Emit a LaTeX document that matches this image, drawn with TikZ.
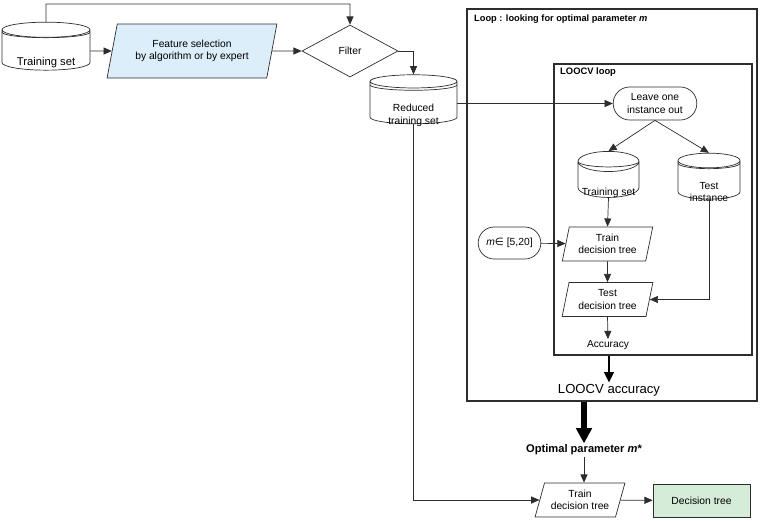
\documentclass[tikz,border=0pt]{standalone}
\usepackage{fontspec}
\setmainfont{Liberation Sans}
\newfontfamily\symfont{DejaVu Sans}
\usepackage{tikz}
\usetikzlibrary{shapes.geometric,shapes.misc}
\usetikzlibrary{arrows.meta,calc}
\usetikzlibrary{positioning}

\definecolor{featblue}{RGB}{220,238,250}
\definecolor{treegreen}{RGB}{212,236,216}
\definecolor{linegray}{RGB}{45,45,45}

% text sits in the lower part of a database symbol
\newcommand{\dbtext}[1]{\raisebox{-12.5pt}[0pt][0pt]{\begin{tabular}{@{}c@{}}#1\end{tabular}}}

\tikzset{
  base/.style={draw=linegray, line width=0.6pt, align=center, inner sep=1pt,
    font=\fontsize{8.8}{10.5}\selectfont},
  dbase/.style={base, cylinder, shape border rotate=90, aspect=#1,
    path picture={\draw[linegray, line width=0.6pt]
      let \p1=(path picture bounding box.north west),
          \p2=(path picture bounding box.north east) in
      ($(\p1)+(0,-0.3cm)$) arc[start angle=180, end angle=360,
        x radius={(\x2-\x1)/2}, y radius=0.165cm];}},
  io/.style={base, trapezium, trapezium left angle=#1,
    trapezium right angle={180-#1}, trapezium stretches=true},
  term/.style={base, rounded rectangle},
  frame/.style={draw=linegray, rectangle},
  arr/.style={draw=linegray, line width=0.6pt, -{Triangle[length=7pt,width=6pt]}},
  bigarr/.style={draw=black, line width=2.2pt, -{Triangle[length=9pt,width=8pt]}},
  hugearr/.style={draw=black, line width=4.5pt, -{Triangle[length=13pt,width=13pt]}}
}

\begin{document}
\begin{tikzpicture}[x=0.03cm, y=-0.03cm]
  \useasboundingbox (0,0) rectangle (760,520);

  % loop frames
  \node (outer) [frame, line width=1.3pt, minimum width=8.7cm, minimum height=11.76cm] at (612,205) {};
  \node (inner) [frame, line width=0.9pt, minimum width=5.94cm, minimum height=8.73cm] at (653,209.5) {};
  \node (outertitle) [anchor=west, inner sep=0pt, font=\bfseries\fontsize{7.9}{9}\selectfont]
    at (474,19) {Loop : looking for optimal parameter \textit{m}};
  \node (innertitle) [anchor=west, inner sep=0pt, font=\bfseries\fontsize{8}{9}\selectfont]
    at (560,72) {LOOCV loop};

  % top row
  \node (ts) [dbase=0.25, minimum width=2.64cm, minimum height=1.44cm, font=\fontsize{9.6}{11}\selectfont]
    at (46,51) {\dbtext{Training set}};
  \node (feat) [io=72, fill=featblue, minimum width=5.1cm, minimum height=1.62cm] at (192,51)
    {Feature selection\\by algorithm or by expert};
  \node (filter) [base, diamond, inner sep=0pt, minimum width=2.88cm, minimum height=1.56cm] at (350,51) {Filter};
  \node (red) [dbase=0.25, minimum width=2.61cm, minimum height=1.47cm] at (413.5,103.5) {\dbtext{Reduced\\training set}};
  \coordinate (bend) at (46,4);

  % LOOCV loop
  \node (leave) [term, minimum width=2.58cm, minimum height=0.99cm] at (655,103.5) {Leave one\\instance out};
  \node (its) [dbase=0.36, minimum width=1.83cm, minimum height=1.38cm] at (608.5,181) {\dbtext{Training set}};
  \node (tst) [dbase=0.36, minimum width=1.86cm, minimum height=1.38cm] at (709,181) {\dbtext{Test\\instance}};
  \node (mrange) [term, minimum width=1.95cm, minimum height=0.96cm] at (509.5,243) {\textit{m}{\symfont ∈} [5,20]};
  \node (tr1) [io=76, minimum width=2.73cm, minimum height=1.02cm] at (607.5,244) {Train\\decision tree};
  \node (te1) [io=76, minimum width=2.73cm, minimum height=1.02cm] at (607.5,299.5) {Test\\decision tree};
  \node (acc) [inner sep=1pt, font=\fontsize{8.7}{10}\selectfont] at (608,345) {Accuracy};
  \node (loocv) [inner sep=1pt, font=\fontsize{11.2}{13}\selectfont] at (609,390) {LOOCV accuracy};

  % final model
  \node (opt) [inner sep=1pt, font=\bfseries\fontsize{9.5}{11}\selectfont] at (584,450) {Optimal parameter \textit{m}*};
  \node (tr2) [io=70, minimum width=2.7cm, minimum height=1.02cm] at (580,500) {Train\\decision tree};
  \node (dtree) [base, rectangle, fill=treegreen, minimum width=2.91cm, minimum height=0.99cm] at (701.5,500.5) {Decision tree};

  \draw[arr] (ts.north) -- (bend) -| (filter.north);
  \draw[arr] (ts) -- (feat);
  \draw[arr] (feat) -- (filter);
  \draw[arr] (filter.east) -| (red.north);
  \draw[arr] (red) -- (leave);
  \draw[arr] (leave.south) -- (its.north);
  \draw[arr] (leave.south) -- (tst.north);
  \draw[arr] (its.south) -- (tr1.north);
  \draw[arr] (mrange) -- (tr1);
  \draw[arr] (tr1.south) -- (te1.north);
  \draw[arr] (tst.south) |- (te1.east);
  \draw[arr] (te1.south) -- (acc.north);
  \draw[bigarr] (inner.south -| loocv.north) -- (loocv.north);
  \draw[hugearr] (outer.south -| opt.north) -- (opt.north);
  \draw[arr] (opt.south) -- (opt.south |- tr2.north);
  \draw[arr] (red.south) |- (tr2.west);
  \draw[arr] (tr2) -- (dtree);
\end{tikzpicture}
\end{document}
